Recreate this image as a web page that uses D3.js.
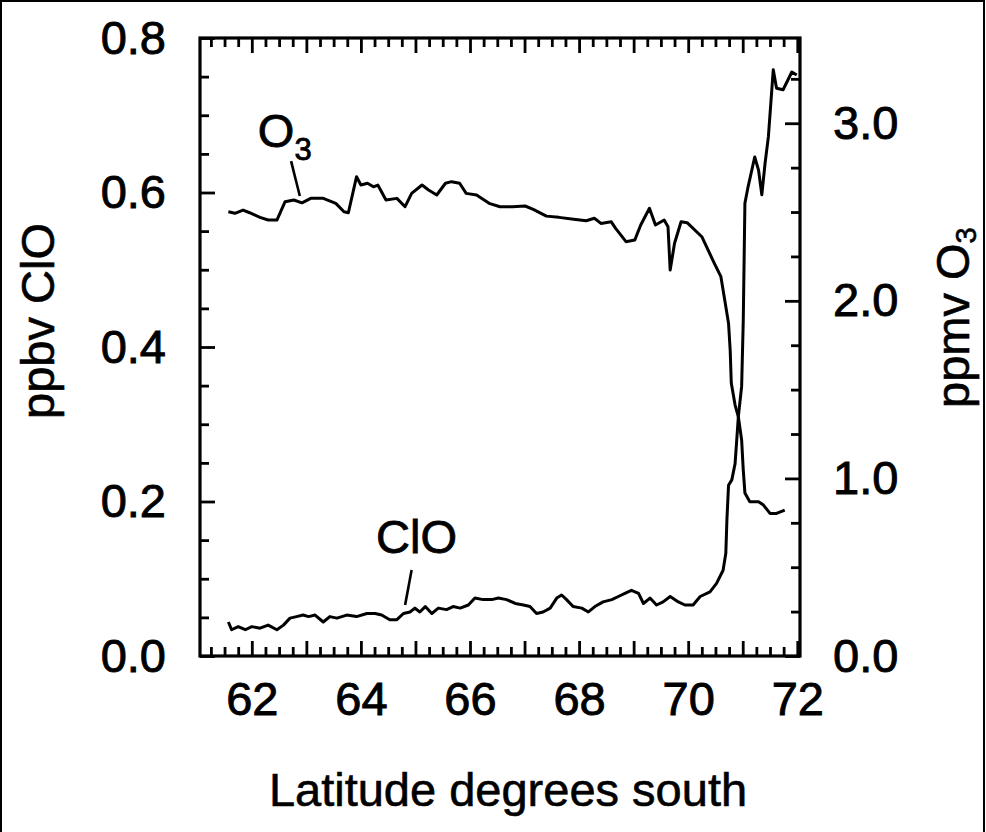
<!DOCTYPE html>
<html><head><meta charset="utf-8">
<script src="https://cdn.jsdelivr.net/npm/d3@7"></script>
<style>
body{margin:0;background:#fff}
svg{display:block}
text{font-family:"Liberation Sans",Arial,Helvetica,sans-serif;fill:#000}
</style>
</head><body>
<svg id="chart" width="986" height="832"></svg>
<script>
// Latitude (degrees south) and O3 (ppmv, right axis)
const latO3 = [61.57,61.69,61.84,61.96,62.15,62.30,62.46,62.61,62.77,62.92,63.08,63.31,63.54,63.69,63.77,63.92,64.00,64.12,64.23,64.31,64.46,64.66,64.81,64.93,65.12,65.24,65.39,65.55,65.66,65.81,65.93,66.12,66.35,66.55,66.78,67.01,67.16,67.40,67.63,67.90,68.13,68.28,68.40,68.59,68.67,68.86,69.02,69.13,69.29,69.40,69.56,69.63,69.67,69.75,69.87,69.98,70.25,70.48,70.60,70.67,70.74,70.77,70.79,70.86,70.92,70.98,71.01,71.04,71.13,71.29,71.38,71.50,71.62,71.77];
const o3 = [2.502,2.493,2.511,2.496,2.470,2.455,2.455,2.558,2.568,2.552,2.577,2.577,2.549,2.502,2.496,2.699,2.652,2.662,2.642,2.652,2.568,2.577,2.530,2.605,2.652,2.624,2.596,2.662,2.671,2.662,2.605,2.596,2.549,2.530,2.530,2.534,2.515,2.477,2.470,2.459,2.451,2.465,2.436,2.445,2.408,2.333,2.342,2.427,2.521,2.427,2.455,2.417,2.173,2.324,2.445,2.440,2.361,2.211,2.136,2.005,1.873,1.723,1.537,1.413,1.346,1.216,1.047,0.918,0.869,0.869,0.850,0.803,0.803,0.822];

// Latitude and ClO (ppbv, left axis)
const latClO = [61.57,61.63,61.75,61.88,62.00,62.15,62.30,62.46,62.58,62.70,62.82,62.94,63.04,63.16,63.31,63.43,63.56,63.74,63.92,64.11,64.26,64.38,64.53,64.66,64.78,64.90,64.99,65.08,65.18,65.30,65.42,65.57,65.69,65.82,65.97,66.09,66.24,66.40,66.52,66.67,66.83,66.98,67.10,67.22,67.34,67.47,67.59,67.68,67.77,67.89,68.05,68.17,68.29,68.44,68.60,68.72,68.84,68.96,69.09,69.18,69.30,69.42,69.54,69.67,69.82,69.94,70.09,70.22,70.40,70.52,70.64,70.69,70.71,70.74,70.80,70.86,70.92,70.98,71.01,71.04,71.10,71.22,71.29,71.35,71.41,71.47,71.56,71.62,71.74,71.90,71.99];
const clo = [0.044,0.034,0.038,0.034,0.038,0.036,0.040,0.034,0.040,0.049,0.051,0.053,0.051,0.053,0.044,0.051,0.049,0.053,0.051,0.055,0.055,0.053,0.047,0.047,0.055,0.057,0.062,0.057,0.064,0.055,0.062,0.060,0.064,0.062,0.066,0.075,0.073,0.073,0.075,0.073,0.068,0.066,0.064,0.055,0.057,0.062,0.075,0.079,0.073,0.064,0.062,0.057,0.064,0.070,0.073,0.077,0.081,0.085,0.081,0.068,0.075,0.066,0.070,0.077,0.070,0.066,0.066,0.077,0.083,0.094,0.111,0.133,0.176,0.221,0.228,0.249,0.310,0.349,0.435,0.586,0.608,0.646,0.629,0.597,0.638,0.672,0.759,0.735,0.733,0.756,0.752];

// Tick labels
const xTickLabels = [62,64,66,68,70,72];
const leftTickLabels = [0.0,0.2,0.4,0.6,0.8];
const rightTickLabels = [0.0,1.0,2.0,3.0];

// Text
const xTitle = "Latitude degrees south";
const leftTitle = "ppbv ClO";
const rightTitleMain = "ppmv O";
const rightTitleSub = "3";
const o3LabelMain = "O";
const o3LabelSub = "3";
const cloLabel = "ClO";

const svg = d3.select("#chart");
const L = 200, R = 800, T = 38, B = 656;
const x = d3.scaleLinear().domain([61.05, 72.05]).range([L, R]);
const yL = d3.scaleLinear().domain([0, 0.8]).range([B, T]);
const yR = d3.scaleLinear().domain([0, 3.48]).range([B, T]);

// outer border
svg.append("rect").attr("x",1).attr("y",1).attr("width",983).attr("height",860)
  .attr("fill","none").attr("stroke","#000").attr("stroke-width",2);

const FS = 47;
function styleAxis(g){
  g.select(".domain").remove();
  g.selectAll(".tick line").attr("stroke","#000").attr("stroke-width",2.8);
  g.selectAll(".tick text").attr("font-size",FS).attr("fill","#000")
   .attr("font-family","'Liberation Sans',Arial,sans-serif")
   .attr("stroke","#000").attr("stroke-width",0.9);
}

// x minor ticks (every 0.25 deg), bottom and top
const xMinor = d3.range(61.25, 72.001, 0.25).filter(v => Math.abs(v - Math.round(v)) > 0.01);
const xMajor = d3.range(62, 72.001, 1);
svg.append("g").attr("transform",`translate(0,${B})`)
  .call(d3.axisBottom(x).tickValues(xMinor).tickSize(-9).tickFormat("")).call(styleAxis);
svg.append("g").attr("transform",`translate(0,${T})`)
  .call(d3.axisTop(x).tickValues(xMinor).tickSize(-9).tickFormat("")).call(styleAxis);
svg.append("g").attr("transform",`translate(0,${T})`)
  .call(d3.axisTop(x).tickValues(xMajor).tickSize(-15).tickFormat("")).call(styleAxis);
svg.append("g").attr("transform",`translate(0,${B})`)
  .call(d3.axisBottom(x).tickValues(xMajor).tickSize(-15).tickPadding(26)
    .tickFormat(d => xTickLabels.includes(d) ? String(d) : "")).call(styleAxis);

// left axis (ppbv ClO)
const yLMinor = d3.range(0.05, 0.80, 0.05).filter(v => Math.abs(v*5 - Math.round(v*5)) > 0.01);
svg.append("g").attr("transform",`translate(${L},0)`)
  .call(d3.axisLeft(yL).tickValues(yLMinor).tickSize(-9).tickFormat("")).call(styleAxis);
svg.append("g").attr("transform",`translate(${L},0)`)
  .call(d3.axisLeft(yL).tickValues(leftTickLabels).tickSize(-15).tickPadding(34)
    .tickFormat(d3.format(".1f"))).call(styleAxis);

// right axis (ppmv O3)
const yRMinor = d3.range(0.25, 3.30, 0.25).filter(v => Math.abs(v - Math.round(v)) > 0.01);
svg.append("g").attr("transform",`translate(${R},0)`)
  .call(d3.axisRight(yR).tickValues(yRMinor).tickSize(-9).tickFormat("")).call(styleAxis);
svg.append("g").attr("transform",`translate(${R},0)`)
  .call(d3.axisRight(yR).tickValues(rightTickLabels).tickSize(-15).tickPadding(33)
    .tickFormat(d3.format(".1f"))).call(styleAxis);

// frame
svg.append("rect").attr("x",L).attr("y",T).attr("width",R-L).attr("height",B-T)
  .attr("fill","none").attr("stroke","#000").attr("stroke-width",3.2);

// lines
const o3Data = latO3.map((d,i)=>[d,o3[i]]);
const cloData = latClO.map((d,i)=>[d,clo[i]]);
svg.append("path").datum(o3Data)
  .attr("d", d3.line().x(d=>x(d[0])).y(d=>yR(d[1])))
  .attr("fill","none").attr("stroke","#000").attr("stroke-width",3).attr("stroke-linejoin","round");
svg.append("path").datum(cloData)
  .attr("d", d3.line().x(d=>x(d[0])).y(d=>yL(d[1])))
  .attr("fill","none").attr("stroke","#000").attr("stroke-width",3).attr("stroke-linejoin","round");

// annotations
const o3t = svg.append("text").attr("x",x(62.11)).attr("y",yR(2.866))
  .attr("font-size",FS).attr("stroke","#000").attr("stroke-width",0.8);
o3t.append("tspan").text(o3LabelMain);
o3t.append("tspan").attr("font-size",31).attr("dy",13).text(o3LabelSub);
svg.append("line").attr("x1",x(62.72)).attr("y1",yR(2.787)).attr("x2",x(62.88)).attr("y2",yR(2.59))
  .attr("stroke","#000").attr("stroke-width",2.6);

svg.append("text").attr("x",x(65.02)).attr("y",yL(0.1333)).attr("text-anchor","middle")
  .attr("font-size",FS).attr("stroke","#000").attr("stroke-width",0.8).text(cloLabel);
svg.append("line").attr("x1",x(64.93)).attr("y1",yL(0.1113)).attr("x2",x(64.81)).attr("y2",yL(0.066))
  .attr("stroke","#000").attr("stroke-width",2.6);

// axis titles
svg.append("text").attr("x",508).attr("y",806).attr("text-anchor","middle")
  .attr("font-size",FS).attr("stroke","#000").attr("stroke-width",0.6).text(xTitle);
svg.append("text").attr("transform","translate(54,321) rotate(-90)").attr("text-anchor","middle")
  .attr("font-size",FS).attr("stroke","#000").attr("stroke-width",0.6).text(leftTitle);
const rt = svg.append("text").attr("transform","translate(969,408) rotate(-90)").attr("text-anchor","start")
  .attr("font-size",FS).attr("stroke","#000").attr("stroke-width",0.6);
rt.append("tspan").text(rightTitleMain);
rt.append("tspan").attr("font-size",29).attr("dy",7).text(rightTitleSub);
</script>
</body></html>
